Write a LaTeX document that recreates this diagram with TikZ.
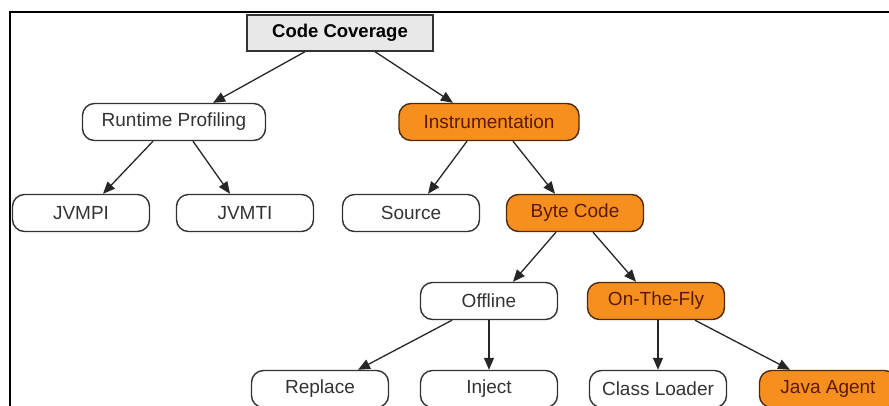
\documentclass[tikz,border=0pt]{standalone}
\usepackage{fontspec}
\setmainfont{Liberation Sans}
\usetikzlibrary{arrows.meta}
\definecolor{orfill}{HTML}{F78F1E}
\definecolor{ortext}{HTML}{5A1A05}
\definecolor{orline}{HTML}{4A2A10}
\definecolor{gtext}{HTML}{333333}
\definecolor{rootfill}{HTML}{E8E8E8}
\tikzset{
  base/.style={draw, line width=1.4pt, minimum height=37pt, minimum width=137pt, inner sep=0pt, font=\fontsize{19}{21}\selectfont},
  plain/.style={base, rounded corners=12pt, draw=gtext, fill=white, text=gtext},
  hot/.style={base, rounded corners=12pt, draw=orline, fill=orfill, text=ortext},
  root/.style={base, draw=gtext, fill=rootfill, text=black, font=\fontsize{18.5}{20}\selectfont\bfseries, minimum width=186pt, minimum height=36pt},
  conn/.style={line width=1.3pt, draw=black!85, -{Triangle[length=12pt,width=10pt]}}
}
\begin{document}
\begin{tikzpicture}[x=1pt,y=-1pt]
\useasboundingbox (0,0) rectangle (889,405);
\clip (0,0) rectangle (889,405);
\fill[white] (0,0) rectangle (889,405);
\draw[line width=2.6pt] (10,420) -- (10,12) -- (900,12);

\node[root] (cc) at (340,33) {Code Coverage};
\node[plain, minimum width=183pt] (rp) at (174,122) {Runtime Profiling};
\node[hot, minimum width=180pt] (ins) at (489,122) {Instrumentation};
\node[plain] (jvmpi) at (81,213) {JVMPI};
\node[plain] (jvmti) at (245,213) {JVMTI};
\node[plain] (src) at (411,213) {Source};
\node[hot] (bc) at (575,213) {Byte Code};
\node[plain] (off) at (489,301) {Offline};
\node[hot] (otf) at (656,301) {On-The-Fly};
\node[plain] (rep) at (320,389) {Replace};
\node[plain] (inj) at (489,389) {Inject};
\node[plain] (cl) at (658,389) {Class Loader};
\node[hot] (ja) at (828,389) {Java Agent};

\draw[conn] ([xshift=-35pt]cc.south) -- ([xshift=39pt]rp.north);
\draw[conn] ([xshift=35pt]cc.south) -- ([xshift=-36pt]ins.north);
\draw[conn] ([xshift=-21pt]rp.south) -- ([xshift=22pt]jvmpi.north);
\draw[conn] ([xshift=19pt]rp.south) -- ([xshift=-15pt]jvmti.north);
\draw[conn] ([xshift=-22pt]ins.south) -- ([xshift=17pt]src.north);
\draw[conn] ([xshift=24pt]ins.south) -- ([xshift=-20pt]bc.north);
\draw[conn] ([xshift=-19pt]bc.south) -- ([xshift=24pt]off.north);
\draw[conn] ([xshift=18pt]bc.south) -- ([xshift=-20pt]otf.north);
\draw[conn] ([xshift=-37pt]off.south) -- ([xshift=38pt]rep.north);
\draw[conn] (off.south) -- (inj.north);
\draw[conn] ([xshift=2pt]otf.south) -- (cl.north);
\draw[conn] ([xshift=39pt]otf.south) -- ([xshift=-38pt]ja.north);
\end{tikzpicture}
\end{document}
